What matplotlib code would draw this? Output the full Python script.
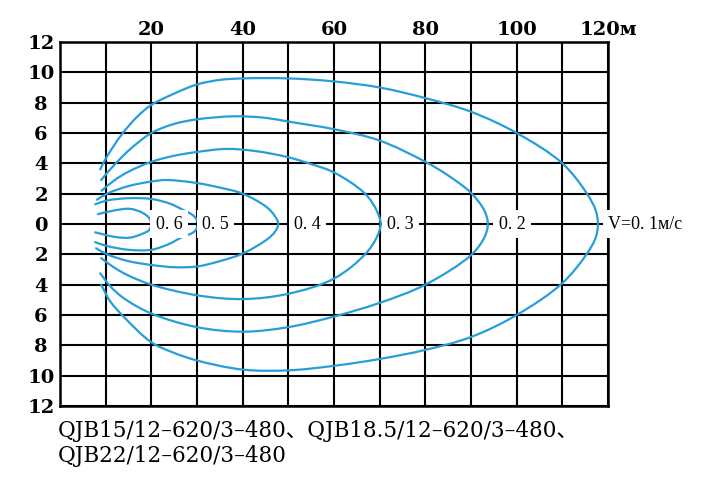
import matplotlib
matplotlib.use('Agg')
import matplotlib.pyplot as plt
from matplotlib.path import Path
from matplotlib.patches import PathPatch

# ---- data (metres) ----
x_grid = list(range(0, 121, 10))
x_labels = ['', '', '20', '', '40', '', '60', '', '80', '', '100', '', '120м']
y_grid = list(range(-12, 13, 2))
y_labels = ['12', '10', '8', '6', '4', '2', '0', '2', '4', '6', '8', '10', '12']

v01_upper = [(8.8, 3.6), (10, 4.3), (13.5, 5.9), (17, 7.1), (20, 7.85), (25, 8.6), (30, 9.2),
             (35, 9.5), (40, 9.6), (50, 9.6), (60, 9.4), (70, 9.0), (80, 8.3), (90, 7.4),
             (100, 6.0), (110, 4.0), (115.4, 2.0), (117.3, 0.9), (117.8, 0)]
v01_lower = [(9.0, -4.0), (11, -5.1), (13.9, -6.1), (20, -7.8), (25, -8.5), (30, -9.0),
             (40, -9.6), (50, -9.65), (60, -9.35), (70, -8.9), (80, -8.3), (90, -7.45),
             (100, -6.0), (110, -3.9), (115.4, -1.95), (117.3, -0.9), (117.8, 0)]
v02_upper = [(9.0, 2.9), (11, 3.6), (13.5, 4.4), (16, 5.1), (20, 6.0), (25, 6.6), (30, 6.9),
             (38, 7.1), (45, 7.0), (50, 6.75), (60, 6.25), (70, 5.5), (80, 4.1), (85, 3.2),
             (90, 2.05), (92.9, 0.9), (93.7, 0)]
v02_lower = [(8.8, -3.25), (11, -4.1), (14, -4.9), (20, -5.9), (30, -6.8), (40, -7.1),
             (50, -6.8), (60, -6.1), (70, -5.2), (80, -4.0), (90, -2.05), (92.9, -0.9), (93.7, 0)]
v03_upper = [(9.1, 2.2), (12, 2.9), (15, 3.45), (20, 4.1), (25, 4.5), (30, 4.75), (36.5, 4.95),
             (43, 4.8), (50, 4.4), (55, 3.95), (60, 3.4), (66.8, 2.0), (69.4, 0.85), (70.2, 0)]
v03_lower = [(9.0, -2.25), (12, -2.9), (15, -3.4), (20, -4.0), (30, -4.7), (40, -4.95),
             (50, -4.6), (60, -3.6), (66.8, -2.0), (69.4, -0.85), (70.2, 0)]
v04_upper = [(8.1, 1.6), (10.3, 2.0), (15, 2.5), (20, 2.8), (23.3, 2.9), (30, 2.7), (35, 2.4),
             (40, 2.0), (45.3, 1.1), (47.1, 0.5), (47.8, 0)]
v04_lower = [(7.9, -1.6), (10.3, -2.0), (15, -2.45), (20, -2.7), (25, -2.85), (30, -2.8),
             (35, -2.45), (40, -1.95), (45.4, -1.0), (47.1, -0.5), (47.8, 0)]
v05_upper = [(7.7, 1.3), (10.3, 1.55), (15, 1.7), (20, 1.65), (24, 1.35), (26.5, 1.0),
             (29.4, 0.5), (30.2, 0)]
v05_lower = [(7.7, -1.2), (10.3, -1.45), (15, -1.7), (20, -1.7), (24, -1.3), (26.5, -0.9),
             (29.4, -0.5), (30.2, 0)]
v06_upper = [(8.3, 0.65), (12, 0.9), (15.3, 1.0), (18, 0.75), (19.5, 0.4), (20, 0)]
v06_lower = [(7.7, -0.55), (12, -0.85), (15.3, -0.9), (18, -0.65), (19.5, -0.4), (20, 0)]

curves = [(v01_upper, v01_lower), (v02_upper, v02_lower), (v03_upper, v03_lower),
          (v04_upper, v04_lower), (v05_upper, v05_lower), (v06_upper, v06_lower)]

speed_labels = ['0. 6', '0. 5', '0. 4', '0. 3', '0. 2', 'V=0. 1м/с']
label_x = [21.0, 31.1, 51.3, 71.6, 96.1, 120.0]

caption_1 = 'QJB15/12–620/3–480、QJB18.5/12–620/3–480、'
caption_2 = 'QJB22/12–620/3–480'

# pixel aspect of the plot area, used only to make the smoothing isotropic
SX, SY = 548 / 120, 364 / 24


def smooth_path(pts, alpha=0.5):
    """Centripetal Catmull-Rom curve through the read points, as cubic Bezier segments."""
    P = [(x * SX, y * SY) for x, y in pts]
    n = len(P)
    first = (2 * P[0][0] - P[1][0], 2 * P[0][1] - P[1][1])
    last = (2 * P[-1][0] - P[-2][0], 2 * P[-1][1] - P[-2][1])
    Q = [first] + P + [last]

    def dist(a, b):
        return max(((a[0] - b[0]) ** 2 + (a[1] - b[1]) ** 2) ** 0.5, 1e-6) ** alpha

    verts = [pts[0]]
    codes = [Path.MOVETO]
    for i in range(1, n):
        p0, p1, p2, p3 = Q[i - 1], Q[i], Q[i + 1], Q[i + 2]
        d0, d1, d2 = dist(p0, p1), dist(p1, p2), dist(p2, p3)
        m1 = [d1 * ((p1[k] - p0[k]) / d0 - (p2[k] - p0[k]) / (d0 + d1) + (p2[k] - p1[k]) / d1)
              for k in range(2)]
        m2 = [d1 * ((p2[k] - p1[k]) / d1 - (p3[k] - p1[k]) / (d1 + d2) + (p3[k] - p2[k]) / d2)
              for k in range(2)]
        c1 = (p1[0] + m1[0] / 3, p1[1] + m1[1] / 3)
        c2 = (p2[0] - m2[0] / 3, p2[1] - m2[1] / 3)
        for c in (c1, c2, p2):
            verts.append((c[0] / SX, c[1] / SY))
            codes.append(Path.CURVE4)
    return Path(verts, codes)


# ---- figure ----
W, H = 721, 486
fig = plt.figure(figsize=(W / 100, H / 100), dpi=100)
ax = fig.add_axes([60 / W, 1 - 406 / H, 548 / W, 364 / H])
ax.set_xlim(0, 120)
ax.set_ylim(-12, 12)

ax.set_xticks(x_grid)
ax.set_xticklabels(x_labels)
ax.set_yticks(y_grid)
ax.set_yticklabels(y_labels)
ax.xaxis.tick_top()
ax.set_axisbelow(True)
ax.grid(True, color='black', linewidth=1.5)
for sp in ax.spines.values():
    sp.set_linewidth(1.8)
    sp.set_color('black')

tick_font = dict(family='DejaVu Serif', weight='bold', size=14)
ax.tick_params(axis='both', length=0)
ax.tick_params(axis='x', pad=2)
ax.tick_params(axis='y', pad=13.7)
for lbl in ax.get_xticklabels():
    lbl.set_fontproperties(tick_font)
for lbl in ax.get_yticklabels():
    lbl.set_fontproperties(tick_font)
    lbl.set_horizontalalignment('center')

blue = '#279ed8'
for upper, lower in curves:
    pts = list(upper) + list(reversed(lower[:-1]))
    patch = PathPatch(smooth_path(pts), facecolor='none', edgecolor=blue, linewidth=1.6,
                      capstyle='round', joinstyle='round', zorder=3, clip_on=False)
    ax.add_patch(patch)

for s, lx in zip(speed_labels, label_x):
    ax.text(lx, 0, s, ha='left', va='center', family='Liberation Serif', fontsize=13,
            bbox=dict(boxstyle='square,pad=0.3', fc='white', ec='none'), zorder=5,
            clip_on=False)

cap_font = ['DejaVu Serif', 'Noto Sans CJK SC']
fig.text(58 / W, 1 - 437 / H, caption_1, family=cap_font, fontsize=15.5, va='baseline', ha='left')
fig.text(58 / W, 1 - 462 / H, caption_2, family=cap_font, fontsize=15.5, va='baseline', ha='left')

fig.savefig('out.png', dpi=100, facecolor='white')
